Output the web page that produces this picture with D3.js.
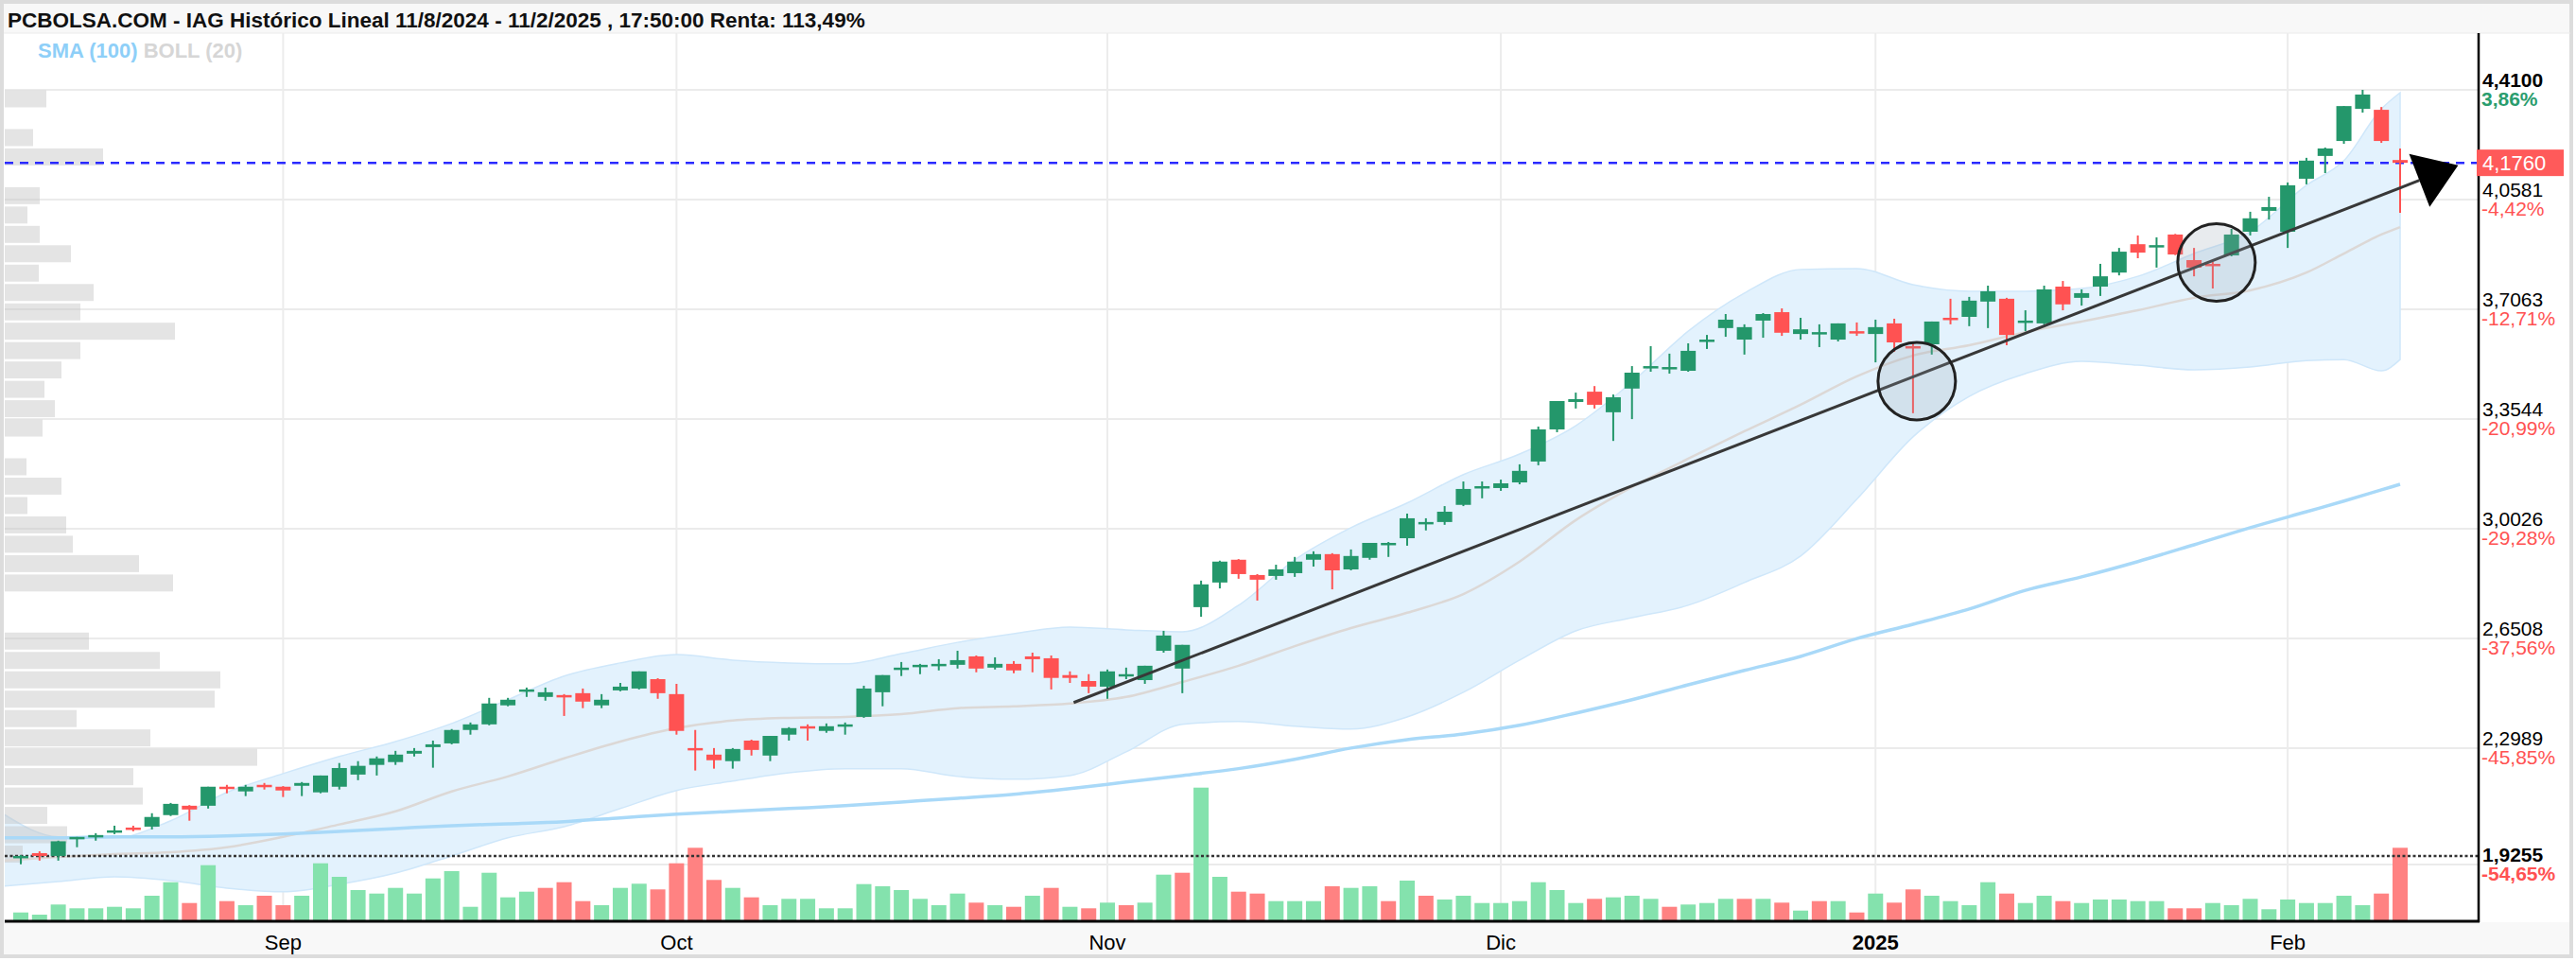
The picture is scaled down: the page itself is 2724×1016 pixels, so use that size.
<!DOCTYPE html>
<html>
<head>
<meta charset="utf-8">
<script src="https://cdn.jsdelivr.net/npm/d3@7"></script>
<style>
  body { margin: 0; background: #fff; }
  svg { display: block; font-family: "Liberation Sans", Arial, sans-serif; }
</style>
</head>
<body>
<div id="scene"></div>
<script>
// daily candles, index 0 = first session shown (mid Aug 2024), 127 = 11/2/2025
var opens = [1.950,1.962,1.953,2.008,2.014,2.029,2.044,2.047,2.084,2.114,2.114,2.175,2.160,2.181,2.175,2.178,2.157,2.175,2.214,2.245,
  2.254,2.281,2.302,2.314,2.357,2.375,2.436,2.481,2.463,2.469,2.475,2.436,2.484,2.490,2.520,2.472,2.299,2.278,2.257,2.323,
  2.275,2.342,2.369,2.354,2.372,2.399,2.478,2.551,2.560,2.563,2.566,2.593,2.557,2.569,2.593,2.587,2.533,2.514,2.496,2.530,
  2.517,2.611,2.554,2.751,2.830,2.903,2.854,2.851,2.860,2.903,2.921,2.872,2.909,2.951,2.972,3.021,3.024,3.079,3.133,3.133,
  3.151,3.218,3.321,3.409,3.442,3.376,3.452,3.518,3.515,3.509,3.606,3.646,3.609,3.670,3.697,3.627,3.630,3.609,3.636,3.627,
  3.661,3.588,3.594,3.679,3.682,3.731,3.740,3.667,3.661,3.779,3.743,3.779,3.824,3.915,3.906,3.946,3.864,3.852,3.879,3.955,
  4.022,3.955,4.125,4.198,4.246,4.349,4.346,4.185];
var highs = [1.956,1.968,2.002,2.014,2.026,2.050,2.050,2.090,2.123,2.116,2.175,2.181,2.181,2.187,2.177,2.190,2.211,2.251,2.257,2.272,
  2.290,2.299,2.323,2.360,2.381,2.460,2.460,2.493,2.493,2.472,2.490,2.472,2.508,2.545,2.523,2.505,2.357,2.299,2.299,2.326,
  2.338,2.366,2.375,2.378,2.381,2.499,2.533,2.575,2.569,2.584,2.611,2.596,2.590,2.578,2.605,2.596,2.545,2.536,2.551,2.557,
  2.563,2.675,2.630,2.836,2.900,2.905,2.857,2.887,2.912,2.930,2.924,2.936,2.957,2.960,3.051,3.036,3.075,3.154,3.154,3.160,
  3.209,3.330,3.412,3.439,3.460,3.433,3.524,3.588,3.564,3.597,3.624,3.691,3.658,3.694,3.709,3.679,3.658,3.661,3.664,3.673,
  3.676,3.597,3.667,3.740,3.746,3.782,3.743,3.703,3.782,3.797,3.770,3.852,3.903,3.943,3.937,3.948,3.903,3.858,3.964,4.019,
  4.067,4.113,4.192,4.225,4.358,4.410,4.355,4.222];
var lows = [1.926,1.938,1.938,1.981,2.002,2.023,2.032,2.038,2.081,2.066,2.105,2.154,2.145,2.166,2.142,2.145,2.154,2.166,2.196,2.211,
  2.245,2.272,2.236,2.311,2.342,2.372,2.433,2.463,2.451,2.402,2.427,2.427,2.481,2.487,2.457,2.342,2.227,2.233,2.233,2.275,
  2.257,2.323,2.323,2.348,2.342,2.396,2.433,2.530,2.536,2.548,2.554,2.542,2.551,2.539,2.542,2.487,2.508,2.475,2.457,2.520,
  2.505,2.605,2.475,2.720,2.811,2.842,2.772,2.839,2.848,2.881,2.808,2.869,2.903,2.912,2.948,2.997,3.015,3.075,3.100,3.124,
  3.145,3.206,3.312,3.388,3.388,3.284,3.354,3.506,3.500,3.506,3.579,3.618,3.561,3.615,3.621,3.609,3.585,3.603,3.621,3.536,
  3.570,3.373,3.561,3.658,3.652,3.646,3.591,3.636,3.658,3.703,3.718,3.749,3.815,3.870,3.840,3.880,3.812,3.773,3.876,3.943,
  3.994,3.903,4.107,4.143,4.237,4.337,4.240,4.016];
var closes = [1.953,1.953,2.000,2.014,2.020,2.035,2.041,2.078,2.120,2.102,2.175,2.169,2.175,2.175,2.163,2.187,2.211,2.235,2.242,2.266,
  2.278,2.290,2.311,2.357,2.375,2.442,2.454,2.487,2.478,2.463,2.448,2.454,2.496,2.545,2.475,2.354,2.293,2.260,2.296,2.293,
  2.338,2.363,2.363,2.369,2.375,2.490,2.533,2.557,2.566,2.569,2.581,2.554,2.569,2.548,2.584,2.524,2.524,2.496,2.545,2.536,
  2.563,2.660,2.630,2.824,2.897,2.857,2.839,2.872,2.897,2.921,2.869,2.915,2.957,2.957,3.036,3.024,3.057,3.130,3.139,3.148,
  3.188,3.321,3.412,3.418,3.400,3.424,3.503,3.524,3.521,3.573,3.609,3.673,3.649,3.691,3.631,3.642,3.633,3.661,3.630,3.649,
  3.600,3.582,3.667,3.673,3.734,3.764,3.624,3.670,3.770,3.722,3.758,3.812,3.891,3.888,3.912,3.882,3.840,3.849,3.946,3.998,
  4.034,4.104,4.183,4.222,4.358,4.395,4.246,4.176];

// volume per session and its colour (G up / R down)
var volumes = [8.3,6,16.7,12.7,12.7,14.3,12.7,26,40.3,18.3,58.3,20.3,16,26,16,26,60.3,46,32,28.3,34.3,28.3,44.3,52,14.3,50.3,
  24.3,30.3,34.3,40.3,20.3,16,34.3,38.7,32.7,60.3,76.7,42.7,34.3,24.3,16,22.7,22.7,12.7,12.7,
  38.3,36,32,22.7,16,28.3,18.7,16,14.3,26,34.3,14.3,12.7,18.7,16,18.7,48.3,50.3,140.3,46,30.3,28.3,20.3,20.3,20.3,36,34.3,
  36,20.3,42,26,22,26,18.3,18.3,20.3,40.3,32,18.3,22.7,24.3,26,22.7,14.3,16.7,
  18.3,22.7,22.7,22.7,18.7,10.3,20.3,20.3,8.3,28.3,18.7,32.7,26,20.3,16,40.3,28.3,18.3,26,20.3,18.3,22,22,20.3,20.3,12.7,
  12.7,18.3,16,22.7,11.7,22,18.3,18.3,26,16,28.3,76.7];
var volDir = ("GGGGGGGGGRGRGRRGGGGGGGGGGGGGRRRGGGRRRRGRGGGGG" +
  "GGGGGGRGRGRGRGRGGRGGRRGGGRGGRGRGGGGGGGGRGGGRG" +
  "GGRGRGRGRGRRGGGGRGGRGGGGGRRGGGGGGGGGRR").split("");

// indicators read every 3 sessions
var bandIdx = [-1,2,5,8,11,14,17,20,23,26,29,32,35,38,41,44,47,50,53,56,59,62,65,68,71,74,77,80,83,86,89,92,95,98,101,104,107,110,113,116,119,122,124,126,127];
var bollUp = [2.090,2.014,2.011,2.066,2.157,2.217,2.272,2.320,2.378,2.454,2.530,2.572,2.599,2.581,2.572,2.569,2.602,2.638,2.666,2.687,2.678,2.672,2.757,
  2.903,3.006,3.085,3.176,3.242,3.333,3.473,3.636,3.758,3.834,3.837,3.785,3.764,3.764,3.773,3.812,3.885,3.955,4.104,4.183,4.349,4.401];
var bollLo = [1.856,1.871,1.886,1.874,1.850,1.838,1.862,1.898,1.953,2.011,2.047,2.105,2.163,2.193,2.220,2.233,2.233,2.208,2.199,2.211,2.287,2.375,2.384,
  2.369,2.360,2.399,2.478,2.581,2.675,2.717,2.757,2.830,2.915,3.097,3.297,3.427,3.500,3.539,3.527,3.512,3.521,3.542,3.545,3.509,3.545];
var bollMid = [1.938,1.950,1.959,1.965,1.981,2.014,2.054,2.096,2.160,2.208,2.266,2.320,2.363,2.387,2.396,2.399,2.408,2.427,2.433,2.442,2.463,2.511,2.563,
  2.626,2.684,2.733,2.793,2.897,3.030,3.136,3.227,3.315,3.400,3.491,3.558,3.591,3.633,3.667,3.703,3.743,3.767,3.824,3.885,3.946,3.970];
var sma100 = [2.011,2.011,2.014,2.014,2.017,2.023,2.032,2.041,2.050,2.056,2.063,2.075,2.087,2.096,2.105,2.114,2.126,2.138,2.151,2.169,2.190,2.211,2.233,
  2.263,2.299,2.326,2.344,2.372,2.411,2.454,2.502,2.548,2.593,2.650,2.696,2.745,2.805,2.848,2.897,2.951,3.006,3.057,3.091,3.127,3.145];

// volume profile, 40 price bins from 4,41 down to 1,9255
var profile = [44,0,30,104,0,37,24,37,70,36,94,80,180,80,60,42,53,40,0,23,60,24,65,72,142,178,0,0,89,164,228,222,76,154,267,136,146,45,66,19];

// axis
var monthIdx = [14, 35, 58, 79, 99, 121];
var monthLabels = ["Sep", "Oct", "Nov", "Dic", "2025", "Feb"];
var axisPrices = [4.41, 4.0581, 3.7063, 3.3544, 3.0026, 2.6508, 2.2989, 1.9255];
var axisPct = ["3,86%", "-4,42%", "-12,71%", "-20,99%", "-29,28%", "-37,56%", "-45,85%", "-54,65%"];
var lastPrice = 4.176;
var startPrice = 1.953;

// hand drawn annotations (session index, price)
var trend = { i0: 56.2, p0: 2.445, i1: 130.1, p1: 4.168 };
var circles = [{ i: 101.2, p: 3.476 }, { i: 117.2, p: 3.856 }];

var ctx = {
  w: 2724,
  h: 1016,
  left: 5,
  right: 2621,
  top: 35,
  bottom: 974,
  green: "#24976b",
  red: "#ff5252",
  volGreen: "#84e2ad",
  volRed: "#ff8282"
};

var x = d3.scaleLinear().domain([0, 127]).range([22, 2538]);
var y = d3.scaleLinear().domain([1.9255, 4.41]).range([914, 95]);
var yVol = d3.scaleLinear().domain([0, 140]).range([973, 833]);
var wProf = d3.scaleLinear().domain([0, 267]).range([0, 267]);

var loc = d3.formatLocale({ decimal: ",", thousands: ".", grouping: [3], currency: ["", "€"] });
var fmtPrice = loc.format(".4f");

var svg = d3.select("#scene").append("svg")
  .attr("width", ctx.w)
  .attr("height", ctx.h);

// Draws the frame, title bar and bottom strip
function drawFrame() {
  svg.append("rect").attr("width", ctx.w).attr("height", ctx.h).attr("fill", "#fff");
  svg.append("rect")
    .attr("x", 4).attr("y", 4).attr("width", 2714).attr("height", 31)
    .attr("fill", "#f8f8f8");
  svg.append("rect")
    .attr("x", 4).attr("y", 975).attr("width", 2714).attr("height", 35)
    .attr("fill", "#f8f8f8");
  svg.append("rect")
    .attr("x", 2).attr("y", 2).attr("width", 2717).attr("height", 1009)
    .attr("fill", "none").attr("stroke", "#dcdcdc").attr("stroke-width", 4);
  svg.append("line")
    .attr("x1", 4).attr("x2", 2718).attr("y1", 35).attr("y2", 35)
    .attr("stroke", "#ececec").attr("stroke-width", 1);
  svg.append("text")
    .attr("x", 8).attr("y", 29)
    .attr("font-size", 22.5).attr("font-weight", "bold").attr("fill", "#111")
    .text("PCBOLSA.COM - IAG Histórico Lineal 11/8/2024 - 11/2/2025 , 17:50:00 Renta: 113,49%");
}

// Draws the grid lines
function drawGrid(g) {
  g.selectAll(".hgrid").data(axisPrices).enter().append("line")
    .attr("x1", ctx.left).attr("x2", ctx.right)
    .attr("y1", function(d) { return y(d); }).attr("y2", function(d) { return y(d); })
    .attr("stroke", "#ebebeb").attr("stroke-width", 2);
  g.selectAll(".vgrid").data(monthIdx).enter().append("line")
    .attr("x1", function(d) { return x(d); }).attr("x2", function(d) { return x(d); })
    .attr("y1", ctx.top).attr("y2", ctx.bottom)
    .attr("stroke", "#ececec").attr("stroke-width", 2);
}

// Draws bollinger band area
function drawBands(g) {
  var rows = bandIdx.map(function(d, k) {
    return { i: d, up: bollUp[k], lo: bollLo[k], mid: bollMid[k], sma: sma100[k] };
  });
  var area = d3.area()
    .x(function(d) { return x(d.i); })
    .y0(function(d) { return y(d.lo); })
    .y1(function(d) { return y(d.up); })
    .curve(d3.curveMonotoneX);
  g.append("path").datum(rows)
    .attr("d", area)
    .attr("fill", "#e3f2fd")
    .attr("stroke", "#cfe7fa").attr("stroke-width", 1.5);
  return rows;
}

// Draws the middle band and the 100 sessions average
function drawAverages(g, rows) {
  var midLine = d3.line()
    .x(function(d) { return x(d.i); })
    .y(function(d) { return y(d.mid); })
    .curve(d3.curveMonotoneX);
  var smaLine = d3.line()
    .x(function(d) { return x(d.i); })
    .y(function(d) { return y(d.sma); })
    .curve(d3.curveMonotoneX);
  g.append("path").datum(rows).attr("d", midLine)
    .attr("fill", "none").attr("stroke", "#dcd8d6").attr("stroke-width", 2.5);
  g.append("path").datum(rows).attr("d", smaLine)
    .attr("fill", "none").attr("stroke", "#a9d9f8").attr("stroke-width", 3.5);
}

// Draws the horizontal volume profile on the left
function drawProfile(g) {
  var bin = (4.41 - 1.9255) / profile.length;
  g.selectAll(".prof").data(profile).enter().append("rect")
    .attr("x", ctx.left)
    .attr("y", function(d, k) { return y(4.41 - k * bin) + 0.5; })
    .attr("width", function(d) { return wProf(d); })
    .attr("height", function() { return y(4.41 - bin) - y(4.41) - 2.5; })
    .attr("fill", "rgba(196,196,196,0.45)");
}

// Draws the volume bars
function drawVolumes(g) {
  g.selectAll(".vol").data(volumes).enter().append("rect")
    .attr("x", function(d, i) { return x(i) - 8; })
    .attr("y", function(d) { return yVol(d); })
    .attr("width", 16)
    .attr("height", function(d) { return yVol(0) - yVol(d); })
    .attr("fill", function(d, i) { return volDir[i] === "G" ? ctx.volGreen : ctx.volRed; });
}

// Draws reference lines (last price, first close)
function drawRefLines(g) {
  g.append("line")
    .attr("x1", ctx.left).attr("x2", ctx.right)
    .attr("y1", y(lastPrice)).attr("y2", y(lastPrice))
    .attr("stroke", "#2a2aff").attr("stroke-width", 2.5)
    .attr("stroke-dasharray", "9,7");
  g.append("line")
    .attr("x1", ctx.left).attr("x2", ctx.right)
    .attr("y1", y(startPrice)).attr("y2", y(startPrice))
    .attr("stroke", "#333").attr("stroke-width", 2.5)
    .attr("stroke-dasharray", "3,2.5");
}

// Draws the candles
function drawCandles(g) {
  var data = opens.map(function(o, i) {
    return { i: i, o: o, h: highs[i], l: lows[i], c: closes[i] };
  });
  var c = g.selectAll(".candle").data(data).enter().append("g");
  c.append("line")
    .attr("x1", function(d) { return x(d.i); }).attr("x2", function(d) { return x(d.i); })
    .attr("y1", function(d) { return y(d.h); }).attr("y2", function(d) { return y(d.l); })
    .attr("stroke", function(d) { return d.c >= d.o ? ctx.green : ctx.red; })
    .attr("stroke-width", 2);
  c.append("rect")
    .attr("x", function(d) { return x(d.i) - 8; })
    .attr("width", 16)
    .attr("y", function(d) { return y(Math.max(d.o, d.c)); })
    .attr("height", function(d) { return Math.max(2.5, Math.abs(y(d.o) - y(d.c))); })
    .attr("fill", function(d) { return d.c >= d.o ? ctx.green : ctx.red; });
}

// Draws the trend line, arrow head and circles
function drawAnnotations(g) {
  var x0 = x(trend.i0), y0 = y(trend.p0), x1 = x(trend.i1), y1 = y(trend.p1);
  var len = Math.sqrt((x1 - x0) * (x1 - x0) + (y1 - y0) * (y1 - y0));
  var ux = (x1 - x0) / len, uy = (y1 - y0) / len;
  var headL = 44, headW = 30;
  var bx = x1 - ux * headL, by = y1 - uy * headL;
  g.append("line")
    .attr("x1", x0).attr("y1", y0).attr("x2", bx).attr("y2", by)
    .attr("stroke", "#383838").attr("stroke-width", 3);
  g.append("polygon")
    .attr("points", [[x1, y1], [bx - uy * headW, by + ux * headW], [bx + uy * headW, by - ux * headW]].join(" "))
    .attr("fill", "#000");
  g.selectAll(".circ").data(circles).enter().append("circle")
    .attr("cx", function(d) { return x(d.i); })
    .attr("cy", function(d) { return y(d.p); })
    .attr("r", 41)
    .attr("fill", "rgba(150,165,178,0.22)")
    .attr("stroke", "#222").attr("stroke-width", 3);
}

// Draws the right price axis and the bottom month axis
function drawAxes() {
  svg.append("line")
    .attr("x1", ctx.right).attr("x2", ctx.right).attr("y1", ctx.top).attr("y2", ctx.bottom + 1)
    .attr("stroke", "#000").attr("stroke-width", 2.5);
  svg.append("line")
    .attr("x1", ctx.left).attr("x2", ctx.right + 1).attr("y1", ctx.bottom).attr("y2", ctx.bottom)
    .attr("stroke", "#000").attr("stroke-width", 3);

  var lab = svg.append("g").attr("font-size", 21);
  axisPrices.forEach(function(p, k) {
    var bold = (k === 0 || k === axisPrices.length - 1);
    lab.append("text")
      .attr("x", 2625).attr("y", y(p) - 3)
      .attr("font-weight", bold ? "bold" : "normal")
      .attr("fill", "#000")
      .text(fmtPrice(p));
    lab.append("text")
      .attr("x", 2624).attr("y", y(p) + 17)
      .attr("font-weight", bold ? "bold" : "normal")
      .attr("fill", axisPct[k].charAt(0) === "-" ? "#ff5252" : "#2a9d6e")
      .text(axisPct[k]);
  });
  svg.append("rect")
    .attr("x", 2619).attr("y", y(lastPrice) - 14).attr("width", 92).attr("height", 28)
    .attr("fill", "#ff5a5a");
  svg.append("text")
    .attr("x", 2625).attr("y", y(lastPrice) + 8)
    .attr("font-size", 22).attr("fill", "#fff")
    .text(fmtPrice(lastPrice));

  svg.selectAll(".month").data(monthLabels).enter().append("text")
    .attr("x", function(d, k) { return x(monthIdx[k]); })
    .attr("y", 1004)
    .attr("text-anchor", "middle")
    .attr("font-size", 22)
    .attr("font-weight", function(d) { return d === "2025" ? "bold" : "normal"; })
    .attr("fill", "#000")
    .text(function(d) { return d; });
}

// Draws the indicator legend
function drawLegend() {
  var t = svg.append("text")
    .attr("x", 40).attr("y", 61)
    .attr("font-size", 22).attr("font-weight", "bold");
  t.append("tspan").attr("fill", "#8ecff8").text("SMA (100) ");
  t.append("tspan").attr("fill", "#d6d6d6").text("BOLL (20)");
}

var createScene = function() {
  drawFrame();
  svg.append("clipPath").attr("id", "plotClip")
    .append("rect")
    .attr("x", ctx.left).attr("y", ctx.top)
    .attr("width", ctx.right - ctx.left).attr("height", ctx.bottom - ctx.top);
  var plot = svg.append("g").attr("clip-path", "url(#plotClip)");
  drawGrid(plot);
  var rows = drawBands(plot);
  drawProfile(plot);
  drawVolumes(plot);
  drawAverages(plot, rows);
  drawRefLines(plot);
  drawCandles(plot);
  drawAnnotations(svg);
  drawAxes();
  drawLegend();
};

createScene();
</script>
</body>
</html>
